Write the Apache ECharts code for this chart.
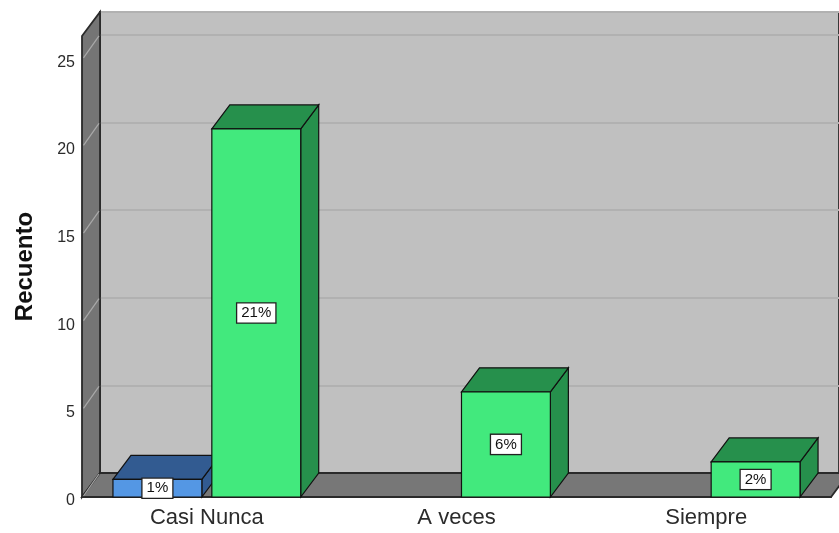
<!DOCTYPE html>
<html>
<head>
<meta charset="utf-8">
<script src="https://cdn.jsdelivr.net/npm/echarts@6/dist/echarts.min.js"></script>
<style>
  html, body { margin: 0; padding: 0; background: #ffffff; }
  #chart { width: 839px; height: 533px; }
</style>
</head>
<body>
<div id="chart"></div>
<script>
// Response categories on the x axis
const categories = ['Casi Nunca', 'A veces', 'Siempre'];
// Counts per category for the two groups (blue first, green second)
const blueCounts = [1, 0, 0];
const greenCounts = [21, 6, 2];
// Value-axis ticks
const yTicks = [0, 5, 10, 15, 20, 25];
const yMax = 26.3;

// 3D look: depth offset of the back plane, in pixels
const DX = 18, DY = 24;
const FONT = '"Liberation Sans", Arial, sans-serif';

const chart = echarts.init(document.getElementById('chart'), null, { renderer: 'canvas' });

// Walls of the box: left wall and floor, built from the front grid rectangle
function renderWalls(params, api) {
  const cs = params.coordSys;
  const x0 = cs.x, y0 = cs.y, w = cs.width, h = cs.height;
  const dark = { stroke: '#2a2a2a', lineWidth: 1.8 };
  return {
    type: 'group',
    children: [
      {
        type: 'polygon',
        shape: { points: [[x0, y0], [x0 + DX, y0 - DY], [x0 + DX, y0 + h - DY], [x0, y0 + h]] },
        style: Object.assign({ fill: '#757575' }, dark)
      },
      {
        type: 'polygon',
        shape: { points: [[x0, y0 + h], [x0 + DX, y0 + h - DY], [x0 + w + DX, y0 + h - DY], [x0 + w, y0 + h]] },
        style: Object.assign({ fill: '#777777' }, dark)
      }
    ]
  };
}

// Slanted tick lines across the left wall (the one at 0 is the floor's inner edge)
function renderWallTicks(params, api) {
  const v = api.value(0);
  const cs = params.coordSys;
  const p = api.coord([0, v]);
  return {
    type: 'line',
    shape: { x1: cs.x + 1.5, y1: p[1] - 1, x2: cs.x + DX - 1, y2: p[1] - DY + 1 },
    style: { stroke: '#a9a9a9', lineWidth: 1.2 }
  };
}

// 3D bar: front face, top face, side face and a boxed value label
function makeBarRenderer(slot, frontColor, darkColor) {
  return function (params, api) {
    const idx = api.value(0);
    const v = api.value(1);
    if (!v) return null;
    const band = api.size([1, 0])[0];
    const barW = band * 0.356;
    const gap = band * 0.04;
    const center = api.coord([idx, 0])[0] + (slot === 0 ? -1 : 1) * (barW + gap) / 2;
    const baseY = api.coord([idx, 0])[1];
    const topY = api.coord([idx, v])[1];
    const l = center - barW / 2, r = center + barW / 2;
    const edge = { stroke: '#111111', lineWidth: 1.2 };
    return {
      type: 'group',
      children: [
        {
          type: 'polygon',
          shape: { points: [[r, topY], [r + DX, topY - DY], [r + DX, baseY - DY], [r, baseY]] },
          style: Object.assign({ fill: darkColor }, edge)
        },
        {
          type: 'polygon',
          shape: { points: [[l, topY], [l + DX, topY - DY], [r + DX, topY - DY], [r, topY]] },
          style: Object.assign({ fill: darkColor }, edge)
        },
        {
          type: 'rect',
          shape: { x: l, y: topY, width: barW, height: baseY - topY },
          style: Object.assign({ fill: frontColor }, edge)
        },
        {
          type: 'text',
          x: center,
          y: (topY + baseY) / 2,
          style: {
            text: v + '%',
            align: 'center',
            verticalAlign: 'middle',
            fontFamily: FONT,
            fontSize: 15,
            fill: '#111111',
            backgroundColor: '#ffffff',
            borderColor: '#222222',
            borderWidth: 1.3,
            padding: [3, 4, 1, 4]
          }
        }
      ]
    };
  };
}

const option = {
  animation: false,
  backgroundColor: '#ffffff',
  grid: [
    // front plane
    { left: 82, right: 8, top: 36, bottom: 36, containLabel: false },
    // back wall
    { left: 82 + DX, right: 8 - DX, top: 36 - DY, bottom: 36 + DY, show: true,
      backgroundColor: '#c0c0c0', borderColor: '#2a2a2a', borderWidth: 1.8 }
  ],
  xAxis: [
    {
      gridIndex: 0, type: 'category', data: categories,
      axisLine: { show: true, lineStyle: { color: '#222222', width: 1.8 } },
      axisTick: { show: false },
      axisLabel: { fontFamily: FONT, fontSize: 22, color: '#2b2b2b', margin: 10 }
    },
    {
      gridIndex: 1, type: 'category', data: categories,
      axisLine: { show: false }, axisTick: { show: false }, axisLabel: { show: false }
    }
  ],
  yAxis: [
    {
      gridIndex: 0, type: 'value', min: 0, max: yMax, interval: 5,
      name: 'Recuento', nameLocation: 'middle', nameRotate: 90, nameGap: 45,
      nameTextStyle: { fontFamily: FONT, fontSize: 24, fontWeight: 'bold', color: '#111111' },
      axisLine: { show: false }, axisTick: { show: false }, splitLine: { show: false },
      axisLabel: {
        margin: 7,
        formatter: function (val) { return yTicks.indexOf(val) >= 0 ? '{t|' + val + '}' : ''; },
        rich: {
          t: { fontFamily: FONT, fontSize: 16, color: '#2b2b2b', padding: [7, 0, 0, 0] }
        }
      }
    },
    {
      gridIndex: 1, type: 'value', min: 0, max: yMax, interval: 5,
      axisLine: { show: false }, axisTick: { show: false }, axisLabel: { show: false },
      splitLine: { show: true, lineStyle: { color: '#b1b1b1', width: 2 } }
    }
  ],
  series: [
    {
      type: 'custom', name: 'walls', xAxisIndex: 0, yAxisIndex: 0, z: 1, silent: true,
      renderItem: renderWalls, data: [[0]]
    },
    {
      type: 'custom', name: 'wallTicks', xAxisIndex: 0, yAxisIndex: 0, z: 2, silent: true,
      renderItem: renderWallTicks, encode: { x: -1, y: 0 },
      data: yTicks.map(function (t) { return [t]; })
    },
    {
      type: 'custom', name: 'blue', xAxisIndex: 0, yAxisIndex: 0, z: 3,
      renderItem: makeBarRenderer(0, '#5497e4', '#325b91'),
      data: blueCounts.map(function (v, i) { return [i, v]; })
    },
    {
      type: 'custom', name: 'green', xAxisIndex: 0, yAxisIndex: 0, z: 4,
      renderItem: makeBarRenderer(1, '#42e97d', '#26904c'),
      data: greenCounts.map(function (v, i) { return [i, v]; })
    }
  ]
};

chart.setOption(option);
</script>
</body>
</html>
